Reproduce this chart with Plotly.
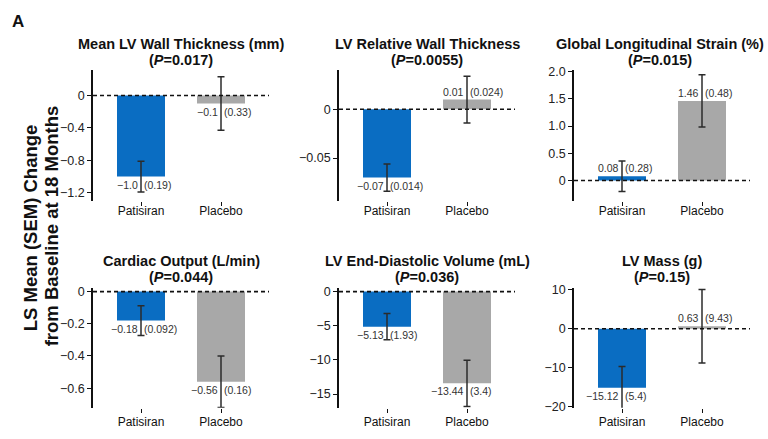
import plotly.graph_objects as go

W, H = 768, 439

# ---------------- data ----------------
panel_titles = ["Mean LV Wall Thickness (mm)", "LV Relative Wall Thickness",
                "Global Longitudinal Strain (%)", "Cardiac Output (L/min)",
                "LV End-Diastolic Volume (mL)", "LV Mass (g)"]
p_values = ["0.017", "0.0055", "0.015", "0.044", "0.036", "0.15"]
groups = ["Patisiran", "Placebo"]
patisiran_mean = [-1.0, -0.07, 0.08, -0.18, -5.13, -15.12]
patisiran_sem = [0.19, 0.014, 0.28, 0.092, 1.93, 5.4]
placebo_mean = [-0.1, 0.01, 1.46, -0.56, -13.44, 0.63]
placebo_sem = [0.33, 0.024, 0.48, 0.16, 3.4, 9.43]
patisiran_mean_txt = ["−1.0", "−0.07", "0.08", "−0.18", "−5.13", "−15.12"]
patisiran_sem_txt = ["(0.19)", "(0.014)", "(0.28)", "(0.092)", "(1.93)", "(5.4)"]
placebo_mean_txt = ["−0.1", "0.01", "1.46", "−0.56", "−13.44", "0.63"]
placebo_sem_txt = ["(0.33)", "(0.024)", "(0.48)", "(0.16)", "(3.4)", "(9.43)"]
y_tickvals = [[0, -0.4, -0.8, -1.2], [0, -0.05], [0, 0.5, 1.0, 1.5, 2.0],
              [0, -0.2, -0.4, -0.6], [0, -5, -10, -15], [10, 0, -10, -20]]
y_ticktext = [["0", "−0.4", "−0.8", "−1.2"], ["0", "−0.05"],
              ["0", "0.5", "1.0", "1.5", "2.0"],
              ["0", "−0.2", "−0.4", "−0.6"], ["0", "−5", "−10", "−15"],
              ["10", "0", "−10", "−20"]]
y_ranges = [[-1.30, 0.31], [-0.094, 0.040], [-0.376, 2.023],
            [-0.721, 0.024], [-17.0, 0.57], [-20.25, 10.5]]

# ---------------- layout geometry (pixels) ----------------
x_left_px = [93, 339, 574, 93, 339, 574]
plot_w_px = 176
row_top_px = [67, 67, 67, 290, 290, 290]
row_bot_px = [201, 201, 201, 413, 413, 413]
label_standoff = [-5, -5, -5, -1, -1, -1]
title_cx_px = [181, 427, 660, 181, 427, 662]

BLUE = "#0A6DC2"
GRAY = "#A8A8A8"
ERR = "#2b2b2b"
FONT = "Liberation Sans, Arial, sans-serif"

fig = go.Figure()
layout = dict(
    width=W, height=H, margin=dict(l=0, r=0, t=0, b=0),
    paper_bgcolor="white", plot_bgcolor="white", showlegend=False,
    font=dict(family=FONT, color="#111"),
)
annotations = []
shapes = []

for i in range(6):
    n = i + 1
    xa = "x" if n == 1 else f"x{n}"
    ya = "y" if n == 1 else f"y{n}"
    for g, mean, sem, col in [(0, patisiran_mean, patisiran_sem, BLUE),
                              (1, placebo_mean, placebo_sem, GRAY)]:
        fig.add_trace(go.Bar(
            x=[groups[g]], y=[mean[i]], width=0.6,
            marker=dict(color=col, line=dict(width=0)),
            error_y=dict(type="data", array=[sem[i]], color=ERR,
                         thickness=1.5, width=3.5),
            xaxis=xa, yaxis=ya, hoverinfo="skip",
        ))
    x0 = x_left_px[i] / W
    x1 = (x_left_px[i] + plot_w_px) / W
    y0 = 1 - row_bot_px[i] / H
    y1 = 1 - row_top_px[i] / H
    layout[f"xaxis{'' if n == 1 else n}"] = dict(
        domain=[x0, x1], anchor=ya, range=[-0.6, 1.6], type="category",
        showline=False, showgrid=False, zeroline=False,
        ticks="outside", ticklen=4, tickwidth=1.2, tickcolor="#111",
        ticklabelstandoff=label_standoff[i],
        tickfont=dict(size=12, family=FONT, color="#111"),
        categoryorder="array", categoryarray=groups,
    )
    layout[f"yaxis{'' if n == 1 else n}"] = dict(
        domain=[y0, y1], anchor=xa, range=y_ranges[i],
        showline=True, linecolor="#111", linewidth=1.6,
        showgrid=False, zeroline=False,
        ticks="outside", ticklen=4, tickwidth=1.4, tickcolor="#111",
        tickvals=y_tickvals[i], ticktext=y_ticktext[i],
        tickfont=dict(size=12.5, family=FONT, color="#222"),
    )
    # dashed zero line
    shapes.append(dict(type="line", xref=f"{xa} domain", yref=ya,
                       x0=0, x1=1, y0=0, y1=0,
                       line=dict(color="#111", width=1.6, dash="4px,3px")))
    # titles
    cx = title_cx_px[i] / W
    annotations.append(dict(text=f"<b>{panel_titles[i]}</b>", xref="paper", yref="paper",
                            x=cx, y=1 - (row_top_px[i] - 27.5) / H, xanchor="center",
                            yanchor="middle", showarrow=False, borderpad=0,
                            font=dict(size=14.5, family=FONT, color="#111")))
    annotations.append(dict(text=f"<b>(<i>P</i>={p_values[i]})</b>", xref="paper", yref="paper",
                            x=cx, y=1 - (row_top_px[i] - 10.5) / H, xanchor="center",
                            yanchor="middle", showarrow=False, borderpad=0,
                            font=dict(size=14.5, family=FONT, color="#111")))
    # value labels
    for g, mean, mtxt, stxt in [(0, patisiran_mean, patisiran_mean_txt, patisiran_sem_txt),
                                (1, placebo_mean, placebo_mean_txt, placebo_sem_txt)]:
        v = mean[i]
        if v < 0:
            yanchor, yshift = "top", -1
        else:
            yanchor, yshift = "bottom", 1
        for txt, xanchor, xshift in [(mtxt[i], "right", -2), (stxt[i], "left", 2)]:
            annotations.append(dict(text=txt, xref=xa, yref=ya, x=groups[g], y=v,
                                    xanchor=xanchor, yanchor=yanchor, borderpad=0,
                                    xshift=xshift, yshift=yshift, showarrow=False,
                                    font=dict(size=10.5, family=FONT, color="#333")))

# shared y-axis title
annotations.append(dict(text="<b>LS Mean (SEM) Change</b>", xref="paper", yref="paper",
                        x=30 / W, y=1 - 229 / H, textangle=-90, showarrow=False,
                        xanchor="center", yanchor="middle", borderpad=0,
                        font=dict(size=18.5, family=FONT, color="#111")))
annotations.append(dict(text="<b>from Baseline at 18 Months</b>", xref="paper", yref="paper",
                        x=51 / W, y=1 - 227 / H, textangle=-90, showarrow=False,
                        xanchor="center", yanchor="middle", borderpad=0,
                        font=dict(size=18.5, family=FONT, color="#111")))
# panel label
annotations.append(dict(text="<b>A</b>", xref="paper", yref="paper",
                        x=18 / W, y=1 - 17 / H, showarrow=False,
                        xanchor="center", yanchor="middle",
                        font=dict(size=17, family=FONT, color="#111")))

layout["annotations"] = annotations
layout["shapes"] = shapes
fig.update_layout(**layout)
fig.write_html("out.html", config={"displayModeBar": False},
               post_script="document.body.style.margin='0';document.body.style.overflow='hidden';")
